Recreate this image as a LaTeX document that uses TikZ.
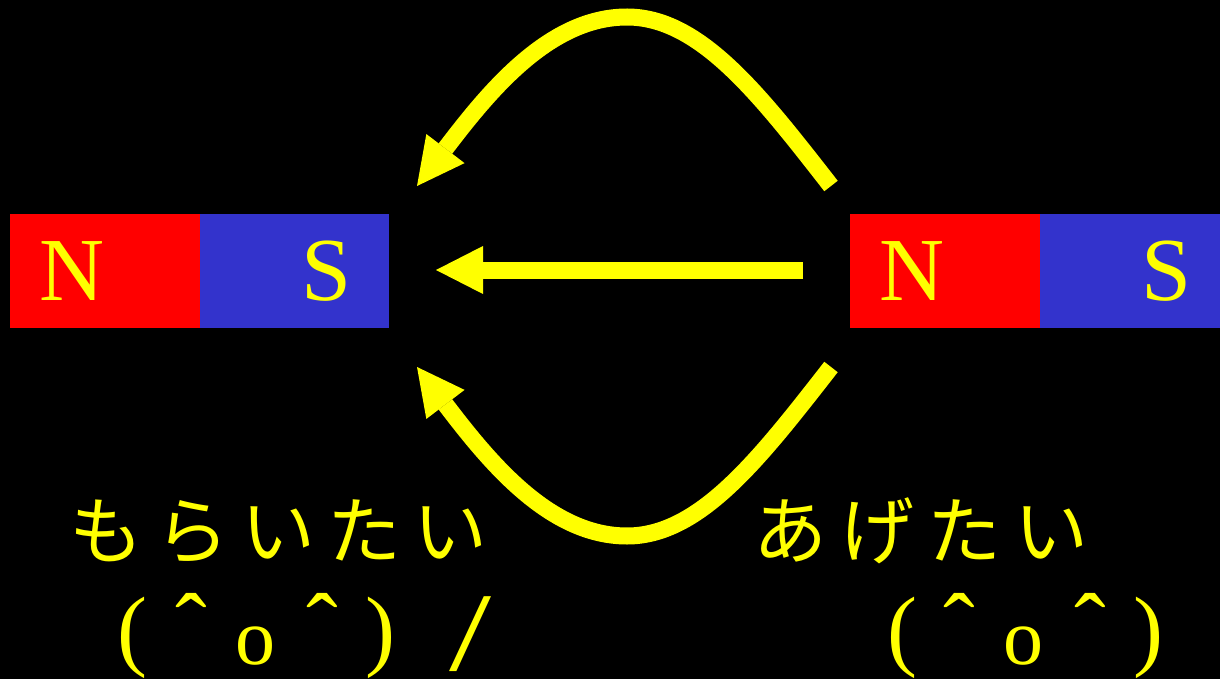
\documentclass[tikz,border=0pt]{standalone}
\usepackage{fontspec}
\usepackage{graphicx}
\setmainfont{Liberation Serif}
\newfontfamily\jpfont{Noto Sans CJK JP}
\usetikzlibrary{arrows.meta}
\definecolor{yel}{RGB}{255,255,0}
\definecolor{polered}{RGB}{255,0,0}
\definecolor{poleblue}{RGB}{51,51,204}
\newcommand{\facech}[3]{\makebox[0pt]{\raisebox{#2}{\fontsize{#1}{#1}\selectfont #3}}}
\begin{document}
\begin{tikzpicture}[x=1pt,y=-1pt,
  pole/.style={draw=none, minimum width=189.5pt, minimum height=114pt, inner sep=0pt, outer sep=0pt, anchor=north west},
  letter/.style={text=yel, inner sep=0pt, font=\fontsize{90}{90}\selectfont},
  flow/.style={draw=yel, line width=17pt, -{Triangle[length=47pt,width=48pt,line width=0pt]}},
  jp/.style={text=yel, inner sep=0pt, anchor=base west, font=\jpfont\fontsize{74}{74}\selectfont},
  face/.style={text=yel, inner sep=0pt, anchor=base west}]
\fill[black] (0,0) rectangle (1220,679);
\useasboundingbox (0,0) rectangle (1220,679);
% left magnet
\node[pole, fill=polered] (lred) at (10,214) {};
\node[pole, fill=poleblue] (lblue) at (199.5,214) {};
\node[letter] (lN) at (72,271) {N};
\node[letter] (lS) at (327,271) {S};
% right magnet
\node[pole, fill=polered] (rred) at (850,214) {};
\node[pole, fill=poleblue] (rblue) at (1039.5,214) {};
\node[letter] (rN) at (912,271) {N};
\node[letter] (rS) at (1167,271) {S};
% arrow ends
\coordinate (topstart) at (831,186);
\coordinate (toppeak) at (627,17);
\coordinate (toptip) at (417,186);
\coordinate (midstart) at (803,270);
\coordinate (midtip) at (436,270);
\coordinate (botstart) at (831,367);
\coordinate (botpeak) at (627,536);
\coordinate (bottip) at (417,367);
\draw[flow] (topstart) .. controls (760,95) and (700,17) .. (toppeak) .. controls (550,17) and (490,90) .. (toptip);
\draw[flow] (midstart) -- (midtip);
\draw[flow] (botstart) .. controls (760,458) and (700,536) .. (botpeak) .. controls (550,536) and (490,463) .. (bottip);
% texts
\node[jp] (want) at (69,558) {も\kern12ptら\kern12ptい\kern12ptた\kern12ptい};
\node[jp] (give) at (753,558) {あ\kern13ptげ\kern13ptた\kern13ptい};
\node[face] (faceL) at (112,659) {\kern20pt\facech{90}{0pt}{(}\kern59pt\facech{95}{0pt}{ˆ}\kern64pt\facech{80}{-5pt}{o}\kern67pt\facech{95}{0pt}{ˆ}\kern58pt\facech{90}{0pt}{)}\kern90pt\facech{112}{-11pt}{\scalebox{1.35}[1]{/}}\kern22pt};
\node[face] (faceR) at (882,659) {\kern20pt\facech{90}{0pt}{(}\kern57pt\facech{95}{0pt}{ˆ}\kern64pt\facech{80}{-5pt}{o}\kern67pt\facech{95}{0pt}{ˆ}\kern58pt\facech{90}{0pt}{)}\kern20pt};
\end{tikzpicture}
\end{document}
